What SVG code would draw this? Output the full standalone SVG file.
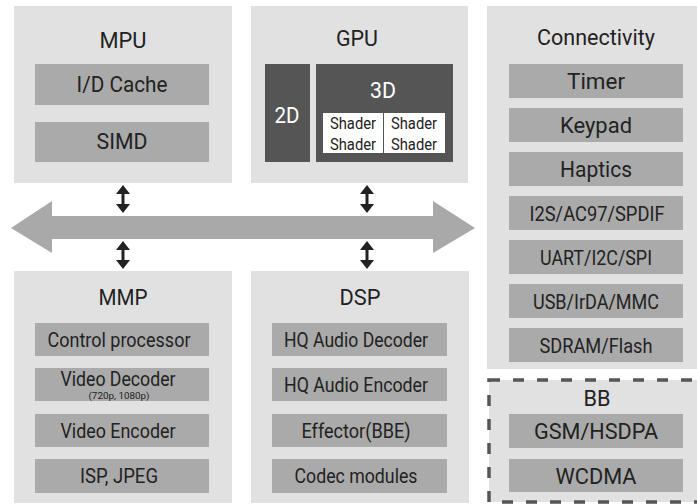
<svg xmlns="http://www.w3.org/2000/svg" xmlns:xlink="http://www.w3.org/1999/xlink" width="697" height="504" viewBox="0 0 697 504">
<style>
.panel{fill:#e1e1e1}
.box{fill:#aaaaaa}
.dark{fill:#555555}
.t{font-family:Roboto,"DejaVu Sans",sans-serif;fill:#222;text-anchor:middle}
.title{font-size:22.5px}
.lbl{font-size:21px}
.w{fill:#fff}
.sh{font-size:16px}
.sub{font-size:9px}
</style>
<defs>
<path id="dbl" d="M0,0 L7,9 L1.5,9 L1.5,19 L7,19 L0,28 L-7,19 L-1.5,19 L-1.5,9 L-7,9 Z" fill="#222"/>
</defs>

<g id="connectors">
<polygon points="11,228 52,201 52,216 433,216 433,201 475,228 433,253 433,239 52,239 52,253" fill="#a9a9a9"/>
<use xlink:href="#dbl" x="123" y="185"/>
<use xlink:href="#dbl" x="123" y="241"/>
<use xlink:href="#dbl" x="367" y="185"/>
<use xlink:href="#dbl" x="367" y="241"/>
</g>

<g id="mpu">
<rect class="panel" x="14" y="6" width="218" height="177"/>
<text class="t title" x="123" y="48" textLength="47" lengthAdjust="spacingAndGlyphs">MPU</text>
<rect class="box" x="35" y="64" width="174" height="41"/>
<text class="t title" x="122" y="92" textLength="91" lengthAdjust="spacingAndGlyphs">I/D Cache</text>
<rect class="box" x="35" y="122" width="174" height="40"/>
<text class="t title" x="122" y="149" textLength="51" lengthAdjust="spacingAndGlyphs">SIMD</text>
</g>

<g id="gpu">
<rect class="panel" x="251" y="6" width="217" height="177"/>
<text class="t title" x="357" y="46" textLength="42" lengthAdjust="spacingAndGlyphs">GPU</text>
<rect class="dark" x="265" y="64" width="45" height="98"/>
<text class="t title w" x="287" y="123" textLength="25" lengthAdjust="spacingAndGlyphs">2D</text>
<rect class="dark" x="316" y="64" width="137" height="98"/>
<text class="t title w" x="383" y="98" textLength="26" lengthAdjust="spacingAndGlyphs">3D</text>
<rect class="w" x="323" y="113" width="122" height="40"/>
<line x1="383.5" y1="113" x2="383.5" y2="153" stroke="#555" stroke-width="1"/>
<text class="t sh" x="353" y="129" textLength="46" lengthAdjust="spacingAndGlyphs">Shader</text>
<text class="t sh" x="414" y="129" textLength="46" lengthAdjust="spacingAndGlyphs">Shader</text>
<text class="t sh" x="353" y="150" textLength="46" lengthAdjust="spacingAndGlyphs">Shader</text>
<text class="t sh" x="414" y="150" textLength="46" lengthAdjust="spacingAndGlyphs">Shader</text>
</g>

<g id="connectivity">
<rect class="panel" x="487" y="6" width="210" height="363"/>
<text class="t title" x="596" y="45" textLength="118" lengthAdjust="spacingAndGlyphs">Connectivity</text>
<rect class="box" x="509" y="64" width="174" height="34"/>
<text class="t title" x="596" y="89" textLength="58" lengthAdjust="spacingAndGlyphs">Timer</text>
<rect class="box" x="509" y="108" width="174" height="34"/>
<text class="t title" x="596" y="133" textLength="72" lengthAdjust="spacingAndGlyphs">Keypad</text>
<rect class="box" x="509" y="152" width="174" height="34"/>
<text class="t title" x="596" y="177" textLength="72" lengthAdjust="spacingAndGlyphs">Haptics</text>
<rect class="box" x="509" y="196" width="174" height="34"/>
<text class="t lbl" x="597" y="221" textLength="135" lengthAdjust="spacingAndGlyphs">I2S/AC97/SPDIF</text>
<rect class="box" x="509" y="240" width="174" height="34"/>
<text class="t lbl" x="596" y="265" textLength="112" lengthAdjust="spacingAndGlyphs">UART/I2C/SPI</text>
<rect class="box" x="509" y="284" width="174" height="34"/>
<text class="t lbl" x="596" y="309" textLength="126" lengthAdjust="spacingAndGlyphs">USB/IrDA/MMC</text>
<rect class="box" x="509" y="328" width="174" height="34"/>
<text class="t lbl" x="596" y="353" textLength="113" lengthAdjust="spacingAndGlyphs">SDRAM/Flash</text>
</g>

<g id="bb">
<rect class="panel" x="489" y="380" width="215" height="122" stroke="#555" stroke-width="3.5" stroke-dasharray="11 13"/>
<text class="t title" x="597" y="406" textLength="27" lengthAdjust="spacingAndGlyphs">BB</text>
<rect class="box" x="509" y="414" width="174" height="34"/>
<text class="t title" x="596" y="439" textLength="124" lengthAdjust="spacingAndGlyphs">GSM/HSDPA</text>
<rect class="box" x="509" y="459" width="174" height="33"/>
<text class="t title" x="596" y="484" textLength="81" lengthAdjust="spacingAndGlyphs">WCDMA</text>
</g>

<g id="mmp">
<rect class="panel" x="14" y="271" width="218" height="232"/>
<text class="t title" x="123" y="305" textLength="49" lengthAdjust="spacingAndGlyphs">MMP</text>
<rect class="box" x="35" y="323" width="174" height="33"/>
<text class="t lbl" x="119" y="347" textLength="143" lengthAdjust="spacingAndGlyphs">Control processor</text>
<rect class="box" x="35" y="368" width="174" height="33"/>
<text class="t lbl" x="118" y="386" textLength="115" lengthAdjust="spacingAndGlyphs">Video Decoder</text>
<text class="t sub" x="119" y="399" textLength="61" lengthAdjust="spacingAndGlyphs">(720p, 1080p)</text>
<rect class="box" x="35" y="414" width="174" height="33"/>
<text class="t lbl" x="118" y="438" textLength="115" lengthAdjust="spacingAndGlyphs">Video Encoder</text>
<rect class="box" x="35" y="459" width="174" height="34"/>
<text class="t lbl" x="119" y="483" textLength="78" lengthAdjust="spacingAndGlyphs">ISP, JPEG</text>
</g>

<g id="dsp">
<rect class="panel" x="251" y="271" width="218" height="232"/>
<text class="t title" x="360" y="305" textLength="41" lengthAdjust="spacingAndGlyphs">DSP</text>
<rect class="box" x="272" y="323" width="175" height="33"/>
<text class="t lbl" x="356" y="347" textLength="144" lengthAdjust="spacingAndGlyphs">HQ Audio Decoder</text>
<rect class="box" x="272" y="368" width="175" height="33"/>
<text class="t lbl" x="356" y="392" textLength="144" lengthAdjust="spacingAndGlyphs">HQ Audio Encoder</text>
<rect class="box" x="272" y="414" width="175" height="33"/>
<text class="t lbl" x="356" y="438" textLength="109" lengthAdjust="spacingAndGlyphs">Effector(BBE)</text>
<rect class="box" x="272" y="459" width="175" height="34"/>
<text class="t lbl" x="356" y="483" textLength="123" lengthAdjust="spacingAndGlyphs">Codec modules</text>
</g>
</svg>
